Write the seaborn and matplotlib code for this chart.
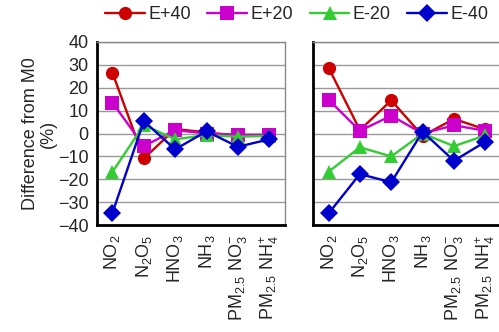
import numpy as np
import pandas as pd
import matplotlib
matplotlib.use('Agg')
from matplotlib import pyplot as plt
import seaborn as sns

# species on the x axis
species = ['NO2', 'N2O5', 'HNO3', 'NH3', 'PM25 NO3', 'PM25 NH4']
tick_labels = ['NO$_2$', 'N$_2$O$_5$', 'HNO$_3$', 'NH$_3$',
               'PM$_{2.5}$ NO$_3^{-}$', 'PM$_{2.5}$ NH$_4^{+}$']
scenarios = ['E+40', 'E+20', 'E-20', 'E-40']

# left panel (% difference from M0)
left_e40p = [26.5, -10.9, 2.0, 0.5, -1.0, -1.0]
left_e20p = [13.5, -5.5, 1.5, 0.0, -0.5, -0.5]
left_e20m = [-16.7, 3.7, -2.5, -0.7, -1.4, -1.0]
left_e40m = [-34.6, 5.4, -6.9, 1.0, -5.8, -2.5]

# right panel
right_e40p = [28.8, 1.5, 14.5, -1.0, 6.4, 1.8]
right_e20p = [14.8, 1.2, 7.8, 0.0, 3.6, 1.2]
right_e20m = [-16.7, -6.0, -10.0, 0.0, -5.5, -0.8]
right_e40m = [-34.9, -17.7, -21.3, 0.8, -11.9, -3.6]

colors = {'E+40': '#CC0000', 'E+20': '#CC00CC', 'E-20': '#33CC33', 'E-40': '#0000CC'}
markers = {'E+40': 'o', 'E+20': 's', 'E-20': '^', 'E-40': 'D'}


def make_long(series):
    '''build long dataframe for seaborn from the four series'''
    rows = []
    for name, vals in zip(scenarios, series):
        for sp, v in zip(species, vals):
            rows.append({'species': sp, 'scenario': name, 'diff': v})
    return pd.DataFrame(rows)


left_df = make_long([left_e40p, left_e20p, left_e20m, left_e40m])
right_df = make_long([right_e40p, right_e20p, right_e20m, right_e40m])

sns.set_style('white')
plt.rcParams['font.family'] = ['Liberation Sans', 'DejaVu Sans']
plt.rcParams['mathtext.fontset'] = 'custom'
plt.rcParams['mathtext.rm'] = 'Liberation Sans'
plt.rcParams['mathtext.it'] = 'Liberation Sans:italic'

fig = plt.figure(figsize=(4.99, 3.32), dpi=100)
ax1 = fig.add_axes([0.194, 0.322, 0.377, 0.5515])
ax2 = fig.add_axes([0.627, 0.322, 0.377, 0.5515])

for ax, df in [(ax1, left_df), (ax2, right_df)]:
    sns.lineplot(data=df, x='species', y='diff', hue='scenario', style='scenario',
                 hue_order=scenarios, style_order=scenarios,
                 palette=colors, markers=markers, dashes=False,
                 linewidth=1.7, markersize=9.5, markeredgewidth=0,
                 sort=False, ax=ax, legend=(ax is ax1))
    ax.set_xlim(-0.5, 5.5)
    ax.set_ylim(-40, 40)
    ax.set_yticks(np.arange(-40, 41, 10))
    ax.yaxis.grid(True, color='#999999', linewidth=1.0)
    ax.set_axisbelow(True)
    ax.set_xticks(range(len(species)))
    ax.set_xticklabels(tick_labels, rotation=90, fontsize=13)
    ax.set_xticks(np.arange(-0.5, 6, 1), minor=True)
    ax.tick_params(axis='x', which='major', length=0, pad=7)
    ax.tick_params(axis='x', which='minor', length=5, width=1.5, direction='out', color='black')
    ax.tick_params(axis='y', length=5, width=1.5, direction='out', color='black', labelsize=13, pad=1)
    ax.set_xlabel('')
    for s in ['left', 'bottom']:
        ax.spines[s].set_color('black')
        ax.spines[s].set_linewidth(2)
    for s in ['top', 'right']:
        ax.spines[s].set_color('#888888')
        ax.spines[s].set_linewidth(1)

ax1.set_ylabel('Difference from M0\n(%)', fontsize=13, labelpad=1, linespacing=1.0)
ax2.set_ylabel('')
ax2.set_yticklabels([])

handles, labels = ax1.get_legend_handles_labels()
ax1.get_legend().remove()
fig.legend(handles, labels, loc='upper center', bbox_to_anchor=(0.595, 1.03), ncol=4,
           frameon=False, fontsize=13, handlelength=2.2, handletextpad=0.2,
           columnspacing=0.9, markerscale=1.0)

fig.savefig('out.png', dpi=100)
